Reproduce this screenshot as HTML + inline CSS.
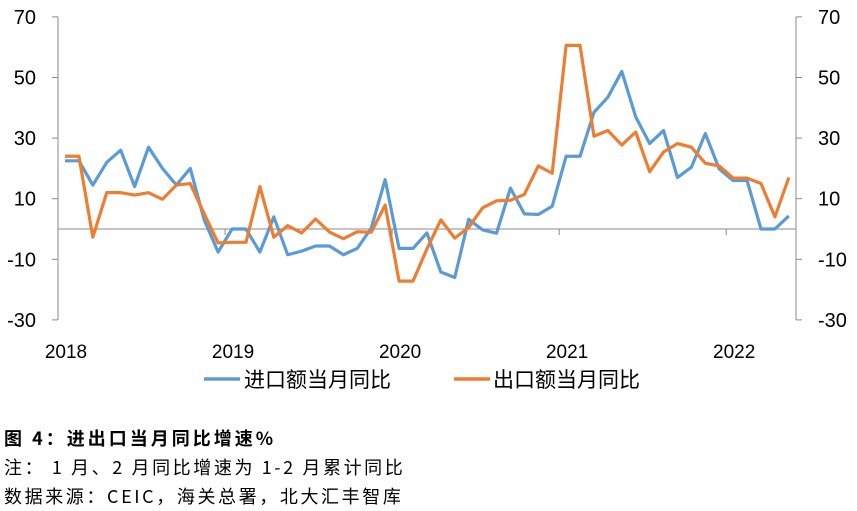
<!DOCTYPE html>
<html><head><meta charset="utf-8">
<style>
body{margin:0;background:#fff;width:857px;height:511px;overflow:hidden;font-family:"Liberation Sans","Noto Sans CJK SC",sans-serif;}
.cap{position:absolute;left:4px;font-size:18px;color:#000;white-space:nowrap;font-family:"Noto Sans CJK SC","Liberation Mono",sans-serif;letter-spacing:2.6px;line-height:20px;}
</style></head><body>
<svg id="chart" width="857" height="420" style="position:absolute;left:0;top:0" font-family="Liberation Sans, Noto Sans CJK SC, sans-serif"></svg>
<div class="cap" style="top:428px;font-weight:bold;letter-spacing:3px;">图 4：进出口当月同比增速%</div>
<div class="cap" style="top:457px;">注： 1 月、2 月同比增速为 1-2 月累计同比</div>
<div class="cap" style="top:486px;">数据来源：CEIC，海关总署，北大汇丰智库</div>
<script>
const yTicks=[70,50,30,10,-10,-30];
const years=["2018","2019","2020","2021","2022"];
const importYoY=[22.5,22.5,14.5,22,26,14,27,20,14.5,20,3,-7.6,0,0,-7.6,4,-8.5,-7.3,-5.6,-5.6,-8.5,-6.4,0.3,16.3,-6.4,-6.4,-1.3,-14.2,-16,3.2,-0.3,-1.4,13.5,5,4.8,7.5,24,24,38.5,43.5,52,37,28.2,32.5,17,20.4,31.5,19.8,16,16,0,0,4.3];
const exportYoY=[24,24,-2.7,12,12,11.2,12,9.8,14.5,15,5,-4.6,-4.4,-4.4,14,-2.7,1.1,-1.3,3.3,-1,-3.2,-0.9,-1.1,7.9,-17.2,-17.2,-6.6,3,-3,0.5,7,9.3,9.5,11.4,20.8,18.4,60.6,60.6,30.6,32.5,27.7,32,18.9,25.4,28.2,27,21.7,20.8,16.8,16.8,15,4,17];
const NS="http://www.w3.org/2000/svg";
const svg=document.getElementById('chart');
const X0=65,DX=13.92,L=58,R=796;
const y=v=>229-v*3.03;
const x=i=>X0+i*DX;
function mk(t,a){const e=document.createElementNS(NS,t);for(const k in a)e.setAttribute(k,a[k]);svg.appendChild(e);return e;}
let e;
e=mk('line',{x1:L,y1:y(70),x2:L,y2:y(-30),stroke:'#898989','stroke-width':1});


e=mk('line',{x1:R,y1:y(70),x2:R,y2:y(-30),stroke:'#898989','stroke-width':1});


e=mk('line',{x1:L,y1:y(0),x2:R,y2:y(0),stroke:'#898989','stroke-width':1});


yTicks.forEach(v=>{
 e=mk('line',{x1:L-6,y1:y(v),x2:L,y2:y(v),stroke:'#898989'});
 
 
 e=mk('line',{x1:R,y1:y(v),x2:R+6,y2:y(v),stroke:'#898989'});
 
 
 e=mk('text',{x:36,y:y(v)+7,'text-anchor':'end','font-size':20,fill:'#000'});e.textContent=v;
 
 
 e=mk('text',{x:R+22,y:y(v)+7,'text-anchor':'start','font-size':20,fill:'#000'});e.textContent=v;
 
 
});
years.forEach((yr,k)=>{
 if(k>0){e=mk('line',{x1:x(k*12-0.5),y1:y(0),x2:x(k*12-0.5),y2:y(0)+6,stroke:'#898989'});
 
 }
 e=mk('text',{x:x(k*12)+1,y:358,'text-anchor':'middle','font-size':19,fill:'#000'});e.textContent=yr;
 
 
});
function series(d,c,n){
 e=mk('polyline',{points:d.map((v,i)=>x(i)+','+y(v)).join(' '),fill:'none',stroke:c,'stroke-width':3.2,'stroke-linejoin':'round'});
 
 
}
series(importYoY,'#5B9BD5','import-yoy-line');
series(exportYoY,'#ED7D31','export-yoy-line');
e=mk('line',{x1:204,y1:379,x2:240,y2:379,stroke:'#5B9BD5','stroke-width':3.5});


e=mk('text',{x:244,y:387,'font-size':21,fill:'#000'});e.textContent='进口额当月同比';


e=mk('line',{x1:454,y1:379,x2:490,y2:379,stroke:'#ED7D31','stroke-width':3.5});


e=mk('text',{x:493,y:387,'font-size':21,fill:'#000'});e.textContent='出口额当月同比';


</script>
</body></html>
